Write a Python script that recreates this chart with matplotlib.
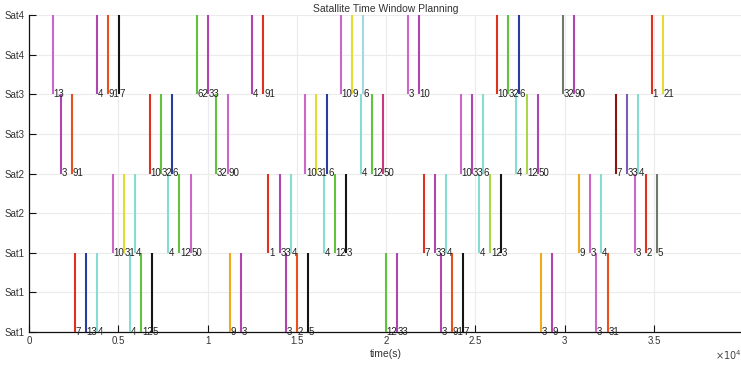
import matplotlib.pyplot as plt

plt.rcParams['font.family'] = ['Liberation Sans', 'DejaVu Sans']

# time (s) of every window, one list per row (row 1 = bottom)
row1_t = [2559, 3192, 3808, 5656, 6289, 6905, 11256, 11872, 14375, 14991, 15607,
          19975, 20591, 23055, 23688, 24304, 28656, 29288, 31752, 32407]
row1_lab = ['7', '13', '4', '4', '12', '5', '9', '3', '3', '2', '5',
            '12', '33', '3', '91', '7', '3', '9', '3', '31']

row2_t = [4704, 5320, 5936, 7801, 8417, 9055, 13401, 14039, 14655, 16503, 17136, 17752,
          22103, 22736, 23352, 25200, 25833, 26449, 30783, 31433, 32049, 33919, 34535, 35151]
row2_lab = ['10', '31', '4', '4', '12', '50', '1', '33', '4', '4', '12', '3',
            '7', '33', '4', '4', '12', '3', '9', '3', '4', '3', '2', '5']

row3_t = [1775, 2391, 6759, 7392, 8008, 10472, 11127, 15473, 16089, 16705, 18575, 19208,
          19824, 24175, 24791, 25407, 27272, 27888, 28504, 32872, 33488, 34104]
row3_lab = ['3', '91', '10', '32', '6', '32', '90', '10', '31', '6', '4', '12',
            '50', '10', '33', '6', '4', '12', '50', '7', '33', '4']

row4_t = [1327, 3791, 4407, 5040, 9391, 10024, 12505, 13121, 17472, 18071, 18687,
          21207, 21840, 26191, 26807, 27423, 29904, 30504, 34888, 35504]
row4_lab = ['13', '4', '91', '7', '62', '33', '4', '91', '10', '9', '6',
            '3', '10', '10', '32', '6', '32', '90', '1', '21']

xtick_vals = [0, 5000, 10000, 15000, 20000, 25000, 30000, 35000]
xtick_lab = ['0', '0.5', '1', '1.5', '2', '2.5', '3', '3.5']
ytick_vals = [0, 0.5, 1, 1.5, 2, 2.5, 3, 3.5, 4]
ytick_lab = ['Sat1', 'Sat1', 'Sat1', 'Sat2', 'Sat2', 'Sat3', 'Sat3', 'Sat4', 'Sat4']

# colours
R = '#e2301f'; P = '#b044b0'; O = '#cc66c8'; OR = '#e8501c'; K = '#151515'
G = '#62c23c'; Y = '#e4dc30'; LB = '#a6d8e4'; T = '#84dcd2'; B = '#2a3c9c'
GO = '#eeaa18'; CR = '#c8387c'; GR = '#6f7a6a'; YG = '#a8d848'; DR = '#8c1410'
SB = '#7c5cb4'

row1_c = [R, B, T, T, G, K, GO, P, P, OR, K, G, P, P, OR, K, GO, P, O, OR]
row2_c = [O, Y, T, T, G, O, R, P, T, T, G, K, R, P, T, T, YG, K, GO, O, T, O, R, GR]
row3_c = [P, OR, R, G, B, G, O, O, Y, B, T, G, CR, O, P, T, T, YG, P, DR, SB, T]
row4_c = [O, P, OR, K, G, P, P, R, O, Y, LB, O, P, R, G, B, GR, P, R, Y]

fig = plt.figure(figsize=(7.41, 3.65), dpi=100)
ax = fig.add_axes([29 / 741, 33 / 365, 714.3 / 741, 317 / 365])

rows = [(row1_t, row1_lab, row1_c), (row2_t, row2_lab, row2_c),
        (row3_t, row3_lab, row3_c), (row4_t, row4_lab, row4_c)]
for i, (t, lab, c) in enumerate(rows):
    ax.vlines(t, i, i + 1, colors=c, linewidth=1.5, zorder=3)
    for x, s in zip(t, lab):
        ax.text(x + 40, i, s, ha='left', va='center', fontsize=7,
                color='#222222', zorder=5, clip_on=False)

ax.set_xlim(0, 40000)
ax.set_ylim(0, 4)
ax.set_xticks(xtick_vals)
ax.set_xticklabels(xtick_lab)
ax.set_yticks(ytick_vals)
ax.set_yticklabels(ytick_lab)
ax.tick_params(direction='in', length=5, width=0.8, labelsize=7, colors='#111111',
               labelcolor='#333333', pad=3)
ax.grid(True, color='#ebebeb', linewidth=0.8, zorder=0)
ax.set_axisbelow(True)
for s in ['top', 'right']:
    ax.spines[s].set_visible(False)
for s in ['left', 'bottom']:
    ax.spines[s].set_linewidth(0.9)
    ax.spines[s].set_color('#111111')

ax.set_title('Satallite Time Window Planning', fontsize=7.5, color='#333333', pad=2)
ax.set_xlabel('time(s)', fontsize=7.5, color='#333333', labelpad=2)
fig.text(715 / 741, 1 - 355 / 365, r'$\times10^{4}$', ha='left', va='center',
         fontsize=7, color='#444444')

fig.savefig('out.png', dpi=100)
